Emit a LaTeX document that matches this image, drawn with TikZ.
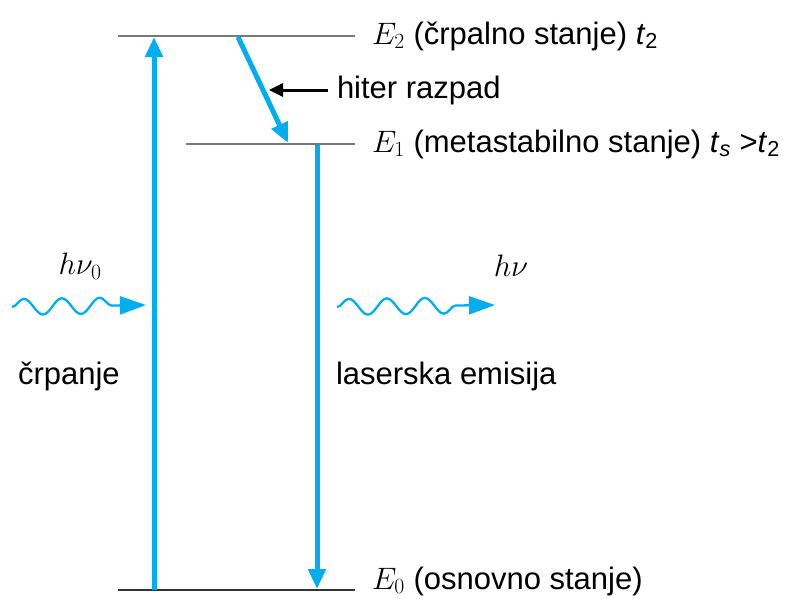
\RequirePackage{fix-cm}
\documentclass[tikz,border=0pt]{standalone}
\usepackage{fontspec}
\setmainfont{Liberation Sans}
\usepackage{xcolor}
\usetikzlibrary{arrows.meta, positioning, calc, decorations.pathmorphing}
\definecolor{laserblue}{RGB}{0,174,239}
\definecolor{levelgray}{RGB}{120,120,120}

\begin{document}
\begin{tikzpicture}[
  x=1pt, y=-1pt,
  font=\fontsize{31}{37}\selectfont,
  level/.style={draw=levelgray, line width=1.8pt},
  ground/.style={draw=black!80, line width=2pt},
  transition/.style={draw=laserblue, line width=5pt, -{Triangle[length=20pt, width=17pt]}},
  photon/.style={draw=laserblue, line width=2.3pt, -{Triangle[length=26pt, width=18pt]}, decorate, decoration={snake, segment length=38pt, amplitude=8pt, post length=32pt}},
  pointer/.style={draw=black, line width=3pt, -{Triangle[length=14pt, width=13pt]}},
  lab/.style={inner sep=0pt, outer sep=0pt}
]
\useasboundingbox (0,0) rectangle (785,598);

% energy levels
\coordinate (e2l) at (118,36);
\coordinate (e2r) at (355,36);
\coordinate (e1l) at (186,144);
\coordinate (e1r) at (355,144);
\coordinate (e0l) at (118,590);
\coordinate (e0r) at (355,590);

\draw [level] (e2l) -- (e2r);
\draw [level] (e1l) -- (e1r);
\draw [ground] (e0l) -- (e0r);

\node (e2lab) [lab, right=17pt of e2r] {$E_2$ (črpalno stanje) \textit{t}\textsubscript{2}};
\node (e1lab) [lab, right=17pt of e1r] {$E_1$ (metastabilno stanje) \textit{t}\textsubscript{\textit{s}} >\textit{t}\textsubscript{2}};
\node (e0lab) [lab, anchor=west] at (372,581) {$E_0$ (osnovno stanje)};

% transitions
\coordinate (pumplow) at (154,590);
\coordinate (pumphigh) at (154,37);
\coordinate (decaytop) at (238,37);
\coordinate (decaybot) at (288,143);
\coordinate (lasertop) at (317,145);
\coordinate (laserbot) at (317,589);

\draw [transition] (pumplow) -- (pumphigh);
\draw [transition] (decaytop) -- (decaybot);
\draw [transition] (lasertop) -- (laserbot);

\node (hiter) [lab, anchor=west] at (337,90) {hiter razpad};
\coordinate (hitertip) at (269,90);
\draw [pointer] ([xshift=-9pt]hiter.west) -- (hitertip);

% photons
\coordinate (in0) at (12,307);
\coordinate (in1) at (146,305);
\coordinate (out0) at (337,307);
\coordinate (out1) at (495,305);

\draw [photon] (in0) -- (in1);
\draw [photon] (out0) -- (out1);

\node (hnu0) [lab] at (80,266) {$h\nu_0$};
\node (hnu) [lab] at (511,266) {$h\nu$};

\node (crp) [lab, anchor=west] at (18,376) {črpanje};
\node (laser) [lab, anchor=west] at (336,376) {laserska emisija};

\end{tikzpicture}
\end{document}
